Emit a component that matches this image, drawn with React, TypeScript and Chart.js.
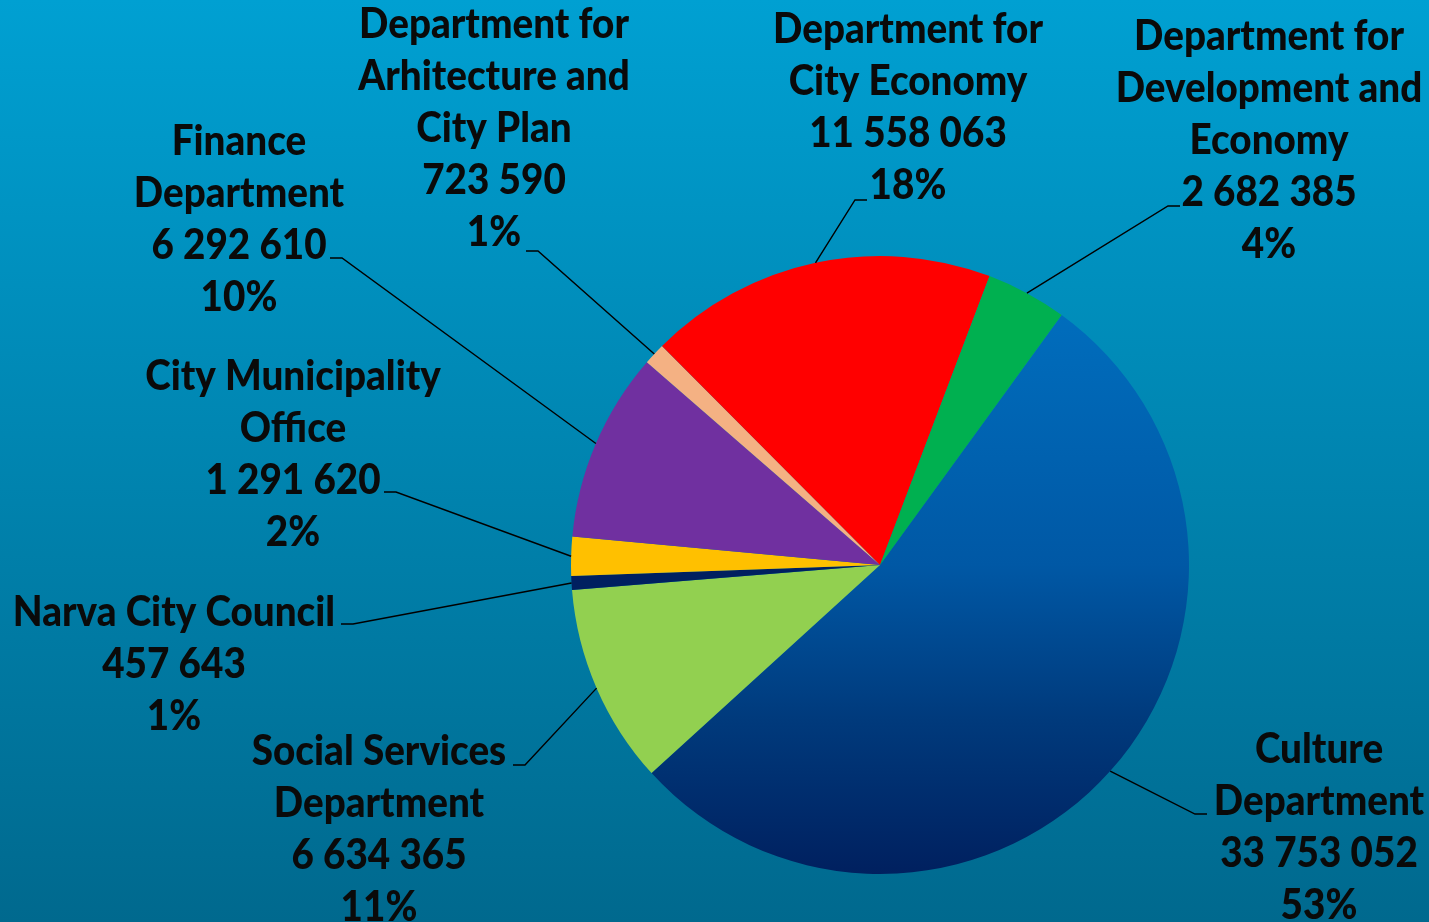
import React, { useEffect, useRef } from "react";
import { Chart, registerables } from "chart.js";

Chart.register(...registerables);

// ---- data ----
const categories = [
  "Culture Department",
  "Social Services Department",
  "Narva City Council",
  "City Municipality Office",
  "Finance Department",
  "Department for Arhitecture and City Plan",
  "Department for City Economy",
  "Department for Development and Economy",
];
const labelLines = [
  ["Culture", "Department"],
  ["Social Services", "Department"],
  ["Narva City Council"],
  ["City Municipality", "Office"],
  ["Finance", "Department"],
  ["Department for", "Arhitecture and", "City Plan"],
  ["Department for", "City Economy"],
  ["Department for", "Development and", "Economy"],
];
const values = [33753052, 6634365, 457643, 1291620, 6292610, 723590, 11558063, 2682385];
const percentLabels = ["53%", "11%", "1%", "2%", "10%", "1%", "18%", "4%"];

// ---- styles ----
const sliceColors = ["#0070c0", "#92d050", "#002060", "#ffc000", "#7030a0", "#f4b183", "#ff0000", "#00b050"];
const cultureGradientStops: [number, string][] = [
  [0, "#0072c2"],
  [0.5, "#0058a5"],
  [0.75, "#003a7c"],
  [1, "#00205f"],
];
const bgTop = "#00a0d2";
const bgBottom = "#00698e";
const textColor = "#0a0a0a";
const fontSize = 42;
const fontWeight = 900;
const lineHeight = 52;
const fontScaleX = 0.92;

// label block placement (canvas px): center x, first baseline, leader elbow, stub direction
const labelLayout = [
  { cx: 1319, y: 763, elbow: [1195, 814], side: 1 },
  { cx: 379, y: 765, elbow: [525, 765], side: -1 },
  { cx: 174, y: 626, elbow: [353, 624], side: -1 },
  { cx: 293, y: 390, elbow: [396, 492], side: -1 },
  { cx: 239, y: 155, elbow: [342, 258], side: -1 },
  { cx: 494, y: 38, elbow: [538, 251], side: -1 },
  { cx: 908, y: 43, elbow: [855, 200], side: 1 },
  { cx: 1269, y: 50, elbow: [1168, 206], side: 1 },
];

const formatValue = (v: number) => String(v).replace(/\B(?=(\d{3})+(?!\d))/g, " ");

const backgroundPlugin = {
  id: "bgGradient",
  beforeDraw(chart: any) {
    const { ctx, width, height } = chart;
    const g = ctx.createLinearGradient(0, 0, 0, height);
    g.addColorStop(0, bgTop);
    g.addColorStop(1, bgBottom);
    ctx.save();
    ctx.fillStyle = g;
    ctx.fillRect(0, 0, width, height);
    ctx.restore();
  },
};

const labelPlugin = {
  id: "outerLabels",
  afterDraw(chart: any) {
    const { ctx } = chart;
    const meta = chart.getDatasetMeta(0);
    ctx.save();
    meta.data.forEach((arc: any, i: number) => {
      const p = arc.getProps(["x", "y", "startAngle", "endAngle", "outerRadius"], true);
      const mid = (p.startAngle + p.endAngle) / 2;
      const ex = p.x + Math.cos(mid) * p.outerRadius;
      const ey = p.y + Math.sin(mid) * p.outerRadius;
      const L = labelLayout[i];
      ctx.strokeStyle = "#000000";
      ctx.lineWidth = 1.4;
      ctx.beginPath();
      ctx.moveTo(ex, ey);
      ctx.lineTo(L.elbow[0], L.elbow[1]);
      ctx.lineTo(L.elbow[0] + L.side * 12, L.elbow[1]);
      ctx.stroke();

      const lines = [...labelLines[i], formatValue(values[i]), percentLabels[i]];
      ctx.fillStyle = textColor;
      ctx.font = `${fontWeight} ${fontSize}px Lato`;
      ctx.textAlign = "center";
      ctx.textBaseline = "alphabetic";
      lines.forEach((t, k) => {
        ctx.save();
        ctx.translate(L.cx, L.y + k * lineHeight);
        ctx.scale(fontScaleX, 1);
        ctx.fillText(t, 0, 0);
        ctx.restore();
      });
    });
    ctx.restore();
  },
};

export default function App() {
  const ref = useRef<HTMLCanvasElement | null>(null);
  useEffect(() => {
    if (!ref.current) return;
    const chart = new Chart(ref.current, {
      type: "pie",
      data: {
        labels: categories,
        datasets: [
          {
            data: values,
            borderWidth: 0,
            backgroundColor: (c: any) => {
              const i = c.dataIndex;
              if (i !== 0) return sliceColors[i];
              const area = c.chart.chartArea;
              if (!area) return sliceColors[0];
              const g = c.chart.ctx.createLinearGradient(0, area.top, 0, area.bottom);
              cultureGradientStops.forEach(([o, col]) => g.addColorStop(o, col));
              return g;
            },
          },
        ],
      },
      options: {
        responsive: false,
        animation: false,
        rotation: 36,
        layout: { padding: { left: 571, right: 240, top: 256, bottom: 48 } },
        plugins: { legend: { display: false }, tooltip: { enabled: false } },
      },
      plugins: [backgroundPlugin, labelPlugin],
    });
    return () => chart.destroy();
  }, []);
  return (
    <div style={{ position: "fixed", left: 0, top: 0, width: 1429, height: 922 }}>
      <canvas ref={ref} width={1429} height={922} style={{ display: "block" }} />
    </div>
  );
}
